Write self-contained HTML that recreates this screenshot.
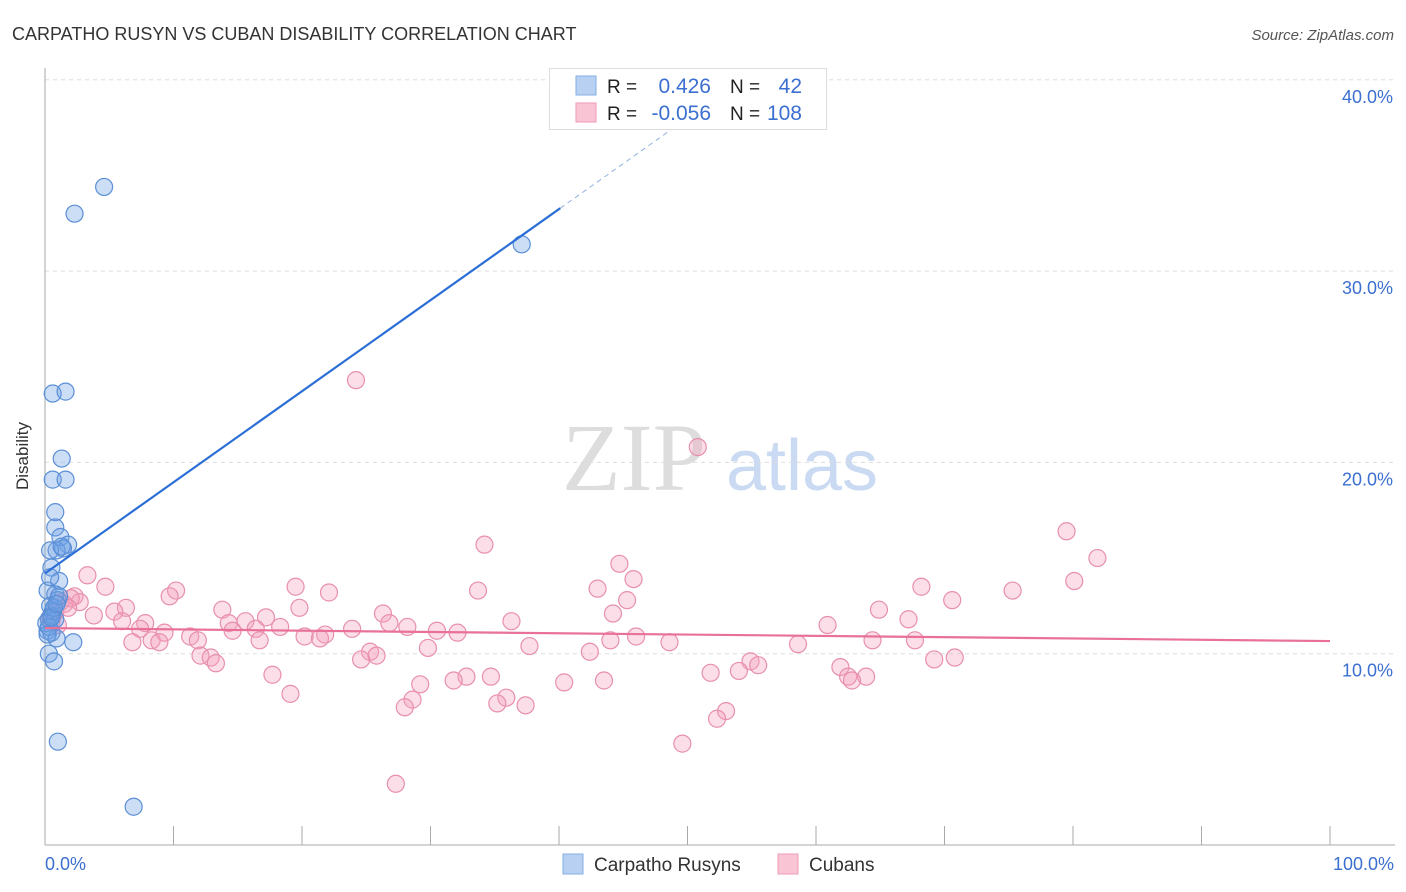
<!DOCTYPE html>
<html><head><meta charset="utf-8"><style>
body{margin:0;background:#fff;font-family:"Liberation Sans",sans-serif;}
svg{display:block}
</style></head><body>
<svg id="chart" width="1406" height="892" xmlns="http://www.w3.org/2000/svg">
<text x="12" y="40" font-size="18" fill="#333">CARPATHO RUSYN VS CUBAN DISABILITY CORRELATION CHART</text>
<text x="1394" y="40" font-size="15" fill="#555" font-style="italic" text-anchor="end">Source: ZipAtlas.com</text>
<text x="634" y="490" font-size="96" fill="#ddd" font-family="Liberation Serif,serif" text-anchor="middle">ZIP</text>
<text x="802" y="490" font-size="72" fill="#c9daf2" text-anchor="middle">atlas</text>
<g id="grid"></g><g id="axes"></g>
<g id="pink"></g><g id="blue"></g><g id="lines"></g>
<text x="28" y="456" font-size="17" fill="#333" text-anchor="middle" transform="rotate(-90 28 456)">Disability</text>
<text x="45" y="870" font-size="18" fill="#3b6fd0">0.0%</text>
<text x="1394" y="870" font-size="18" fill="#3b6fd0" text-anchor="end">100.0%</text>
<g>
<rect x="549.5" y="68.5" width="277" height="61" fill="#fff" stroke="#ddd"/>
<rect x="576" y="76" width="20" height="19" fill="#b8d1f3" stroke="#86aee6"/>
<rect x="576" y="103" width="20" height="19" fill="#f9c5d5" stroke="#ee9ab6"/>
<text x="607" y="93" font-size="19" fill="#222">R =</text>
<text x="711" y="93" font-size="21" fill="#3b6fd0" text-anchor="end">0.426</text>
<text x="730" y="93" font-size="19" fill="#222">N =</text>
<text x="802" y="93" font-size="21" fill="#3b6fd0" text-anchor="end">42</text>
<text x="607" y="120" font-size="19" fill="#222">R =</text>
<text x="711" y="120" font-size="21" fill="#3b6fd0" text-anchor="end">-0.056</text>
<text x="730" y="120" font-size="19" fill="#222">N =</text>
<text x="802" y="120" font-size="21" fill="#3b6fd0" text-anchor="end">108</text>
</g>
<g>
<rect x="563" y="854" width="20" height="20" fill="#b8d1f3" stroke="#86aee6"/>
<text x="594" y="871" font-size="19" fill="#333">Carpatho Rusyns</text>
<rect x="778" y="854" width="20" height="20" fill="#f9c5d5" stroke="#ee9ab6"/>
<text x="809" y="871" font-size="19" fill="#333">Cubans</text>
</g>
</svg>
<script>
const yTicks=[10,20,30,40];
const yTickLabels=["10.0%","20.0%","30.0%","40.0%"];
const blueX=[4.6,2.3,37.1,0.6,1.6,1.3,0.6,1.6,0.8,0.8,1.2,1.8,1.4,0.9,0.4,0.5,1.1,0.2,0.8,1.0,0.4,0.5,0.3,0.8,0.2,0.5,0.9,2.2,0.3,0.7,1.0,6.9,1.3,0.4,0.6,0.1,0.3,0.7,1.1,0.2,0.5,0.9];
const blueY=[34.4,33.0,31.4,23.6,23.7,20.2,19.1,19.1,17.4,16.6,16.1,15.7,15.5,15.4,15.4,14.5,13.8,13.3,13.1,12.8,12.5,12.0,11.8,11.8,11.2,11.1,10.8,10.6,10.0,9.6,5.4,2.0,15.6,14.0,12.2,11.6,11.4,12.4,13.0,11.0,11.9,12.6];
const pinkX=[24.2,50.8,79.5,34.2,81.9,44.7,3.3,45.8,80.1,19.5,43.0,4.7,33.7,68.2,75.3,10.2,9.7,2.3,22.1,45.3,70.6,2.7,1.2,19.8,6.3,13.8,64.9,44.2,26.3,3.8,5.4,17.2,36.3,67.2,6.0,7.8,14.3,15.6,26.8,28.2,60.9,16.4,23.9,30.5,32.1,14.6,7.4,18.3,9.3,11.3,21.8,20.2,21.4,46.0,64.4,67.7,44.0,11.9,8.3,8.9,6.8,16.7,37.7,48.6,58.6,29.8,42.4,25.3,25.8,12.1,12.9,24.6,69.2,70.8,54.9,55.5,13.3,61.9,51.8,54.0,17.7,32.8,34.7,31.8,40.4,43.5,62.5,63.9,62.8,29.2,19.1,35.9,28.6,35.2,37.4,28.0,53.0,52.3,49.6,27.3,0.8,1.5,0.5,2.0,1.0,0.6,1.8,0.4];
const pinkY=[24.3,20.8,16.4,15.7,15.0,14.7,14.1,13.9,13.8,13.5,13.4,13.5,13.3,13.5,13.3,13.3,13.0,13.0,13.2,12.8,12.8,12.7,12.7,12.4,12.4,12.3,12.3,12.1,12.1,12.0,12.2,11.9,11.7,11.8,11.7,11.6,11.6,11.7,11.6,11.4,11.5,11.3,11.3,11.2,11.1,11.2,11.3,11.4,11.1,10.9,11.0,10.9,10.8,10.9,10.7,10.7,10.7,10.7,10.7,10.6,10.6,10.7,10.4,10.6,10.5,10.3,10.1,10.1,9.9,9.9,9.8,9.7,9.7,9.8,9.6,9.4,9.5,9.3,9.0,9.1,8.9,8.8,8.8,8.6,8.5,8.6,8.8,8.8,8.6,8.4,7.9,7.7,7.6,7.4,7.3,7.2,7.0,6.6,5.3,3.2,12.2,12.6,11.7,12.9,11.5,12.0,12.4,11.9];
const blueFit=[14.2,0.476];
const pinkFit=[11.34,-0.0068];
const NS="http://www.w3.org/2000/svg";
const X0=45,X1=1330,Y0=845,PY=19.13;
const sx=v=>X0+v*(X1-X0)/100;
const sy=v=>Y0-v*PY;
function mk(tag,attrs,parent){const e=document.createElementNS(NS,tag);for(const k in attrs)e.setAttribute(k,attrs[k]);parent.appendChild(e);return e;}
const grid=document.getElementById('grid'),axes=document.getElementById('axes');
yTicks.forEach((t,i)=>{
 const l=mk('line',{x1:X0,x2:1395,y1:sy(t),y2:sy(t),stroke:'#ddd','stroke-dasharray':'4,4'},grid);
 
 
 const tx=mk('text',{x:1393,y:sy(t)+23,'font-size':18,fill:'#3b6fd0','text-anchor':'end'},grid);
 tx.textContent=yTickLabels[i];
 
 
});
const ax=mk('line',{x1:X0,x2:1395,y1:Y0,y2:Y0,stroke:'#aaa'},axes);


const ay=mk('line',{x1:X0,x2:X0,y1:68,y2:Y0,stroke:'#aaa'},axes);


for(let i=0;i<=10;i++){const t=mk('line',{x1:sx(i*10),x2:sx(i*10),y1:826,y2:Y0,stroke:'#aaa'},axes);
 
 }
function pts(xs,ys,g,fill,stroke,name){const G=document.getElementById(g);
 xs.forEach((x,i)=>{const c=mk('circle',{cx:sx(x),cy:sy(ys[i]),r:8.5,fill:fill,stroke:stroke,'stroke-width':1.2},G);
 
 });}
pts(pinkX,pinkY,'pink','rgba(244,160,188,0.35)','#e88fae','cuban-point');
pts(blueX,blueY,'blue','rgba(110,160,230,0.35)','#5b8fd6','rusyn-point');
const L=document.getElementById('lines');
const bl=mk('line',{x1:sx(0),y1:sy(blueFit[0]),x2:sx(40.1),y2:sy(blueFit[0]+blueFit[1]*40.1),stroke:'#2b6fd6','stroke-width':2.2},L);


const bd=mk('line',{x1:sx(40.1),y1:sy(blueFit[0]+blueFit[1]*40.1),x2:sx(52.5),y2:sy(blueFit[0]+blueFit[1]*52.5),stroke:'#8fb0e0','stroke-width':1,'stroke-dasharray':'5,4'},L);


const pl=mk('line',{x1:sx(0),y1:sy(pinkFit[0]),x2:sx(100),y2:sy(pinkFit[0]+pinkFit[1]*100),stroke:'#e8709a','stroke-width':2.2},L);


</script>
</body></html>
